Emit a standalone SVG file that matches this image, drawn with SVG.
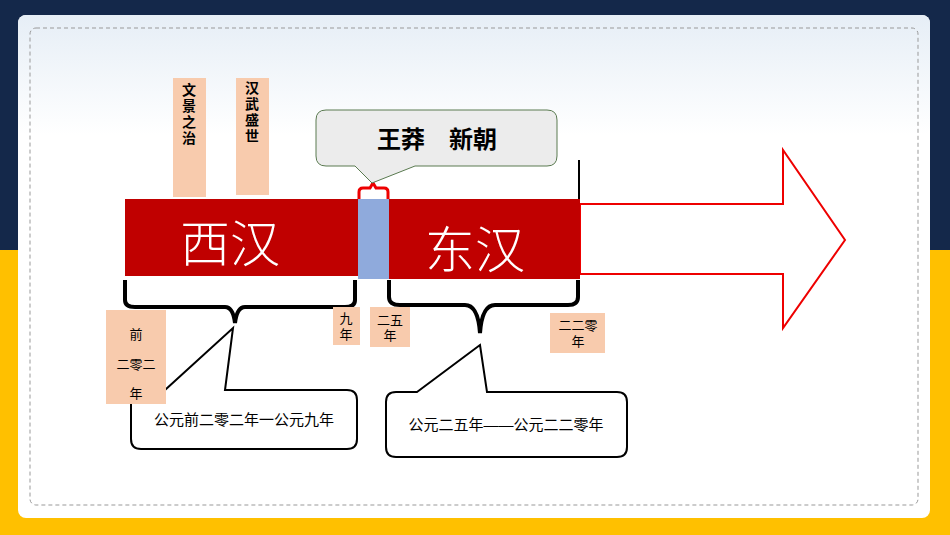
<svg xmlns="http://www.w3.org/2000/svg" width="950" height="535" viewBox="0 0 950 535">
<defs>
<linearGradient id="sky" x1="0" y1="0" x2="0" y2="1"><stop offset="0" stop-color="#e6eef6"/><stop offset="1" stop-color="#ffffff"/></linearGradient>
<style>
.f{font-family:"Liberation Sans","Noto Sans CJK SC",sans-serif;fill:#000}
.tag{fill:#f8cbad}
.br{fill:none;stroke:#000;stroke-width:4}
</style>
</defs>
<rect width="950" height="535" fill="#ffc000"/>
<rect width="950" height="250" fill="#14284a"/>
<rect x="18" y="15" width="912" height="503" rx="8" fill="#fff"/>
<rect x="18" y="15" width="912" height="120" rx="8" fill="url(#sky)"/>
<rect x="30" y="28" width="888" height="477" rx="6" fill="none" stroke="#999" stroke-dasharray="4 3"/>
<g id="arrow"><polygon points="580,204 783,204 783,150 845,240 783,328 783,274 580,274" fill="#fff" stroke="#e00" stroke-width="2"/></g>
<g id="xihan"><rect x="125" y="199" width="233" height="77" fill="#c00000"/><text x="230" y="262" font-size="50" font-weight="300" fill="#fff" text-anchor="middle" font-family="Noto Sans CJK SC,serif">西汉</text></g>
<g id="xinchao"><rect x="358" y="199" width="31" height="80" fill="#8faadc"/></g>
<g id="donghan"><rect x="389" y="199" width="191" height="80" fill="#c00000"/><text x="475" y="268" font-size="50" font-weight="300" fill="#fff" text-anchor="middle" font-family="Noto Sans CJK SC,serif">东汉</text></g>
<g id="connectors">
<line x1="579" y1="160" x2="579" y2="199" stroke="#000" stroke-width="2"/>
<path class="br" d="M125,280 V300 Q125,307 135,307 H225 Q233,307 235,323 Q237,307 245,307 H345 Q355,307 355,300 V280"/>
<path class="br" d="M389,280 V297 Q389,305 400,305 H465 Q478,305 480,333 Q482,305 495,305 H568 Q578,305 578,297 V280"/>
<path d="M359,199 V192 Q359,188 363,188 H370 L373,183 L376,188 H384 Q388,188 388,192 V199" fill="none" stroke="#e00" stroke-width="3"/>
</g>
<g id="wangmang"><path d="M326,110 H547 Q557,110 557,120 V156 Q557,166 547,166 H415 L372,183 L355,166 H326 Q316,166 316,156 V120 Q316,110 326,110 Z" fill="#ececec" stroke="#5a7a50"/><text x="437" y="148" class="f" font-size="24" font-weight="bold" text-anchor="middle">王莽　新朝</text></g>
<g id="wenjing"><rect class="tag" x="173" y="78" width="33" height="119"/><text class="f" font-size="14" font-weight="bold" text-anchor="middle"><tspan x="189" y="95">文</tspan><tspan x="189" y="111">景</tspan><tspan x="189" y="127">之</tspan><tspan x="189" y="143">治</tspan></text></g>
<g id="hanwu"><rect class="tag" x="236" y="78" width="33" height="117"/><text class="f" font-size="14" font-weight="bold" text-anchor="middle"><tspan x="252" y="93">汉</tspan><tspan x="252" y="109">武</tspan><tspan x="252" y="125">盛</tspan><tspan x="252" y="141">世</tspan></text></g>
<g id="c1"><path d="M165,390 L233,328 L225,390 H347 Q357,390 357,400 V439 Q357,449 347,449 H141 Q131,449 131,439 V400 Q131,390 141,390 Z" fill="#fff" stroke="#000" stroke-width="2"/><text x="244" y="425" class="f" font-size="15" text-anchor="middle">公元前二零二年一公元九年</text></g>
<g id="c2"><path d="M417,392 L480,345 L487,392 H617 Q627,392 627,402 V447 Q627,457 617,457 H396 Q386,457 386,447 V402 Q386,392 396,392 Z" fill="#fff" stroke="#000" stroke-width="2"/><text x="506" y="430" class="f" font-size="15" text-anchor="middle">公元二五年——公元二二零年</text></g>
<g id="y1"><rect class="tag" x="106" y="310" width="60" height="94"/><text class="f" font-size="13" text-anchor="middle"><tspan x="136" y="339">前</tspan><tspan x="136" y="369">二零二</tspan><tspan x="136" y="398">年</tspan></text></g>
<g id="y2"><rect class="tag" x="333" y="307" width="27" height="38"/><text class="f" font-size="13" text-anchor="middle"><tspan x="346" y="323">九</tspan><tspan x="346" y="339">年</tspan></text></g>
<g id="y3"><rect class="tag" x="370" y="307" width="40" height="40"/><text class="f" font-size="13" text-anchor="middle"><tspan x="390" y="325">二五</tspan><tspan x="390" y="340">年</tspan></text></g>
<g id="y4"><rect class="tag" x="550" y="313" width="55" height="40"/><text class="f" font-size="13" text-anchor="middle"><tspan x="578" y="330">二二零</tspan><tspan x="578" y="346">年</tspan></text></g>
</svg>
